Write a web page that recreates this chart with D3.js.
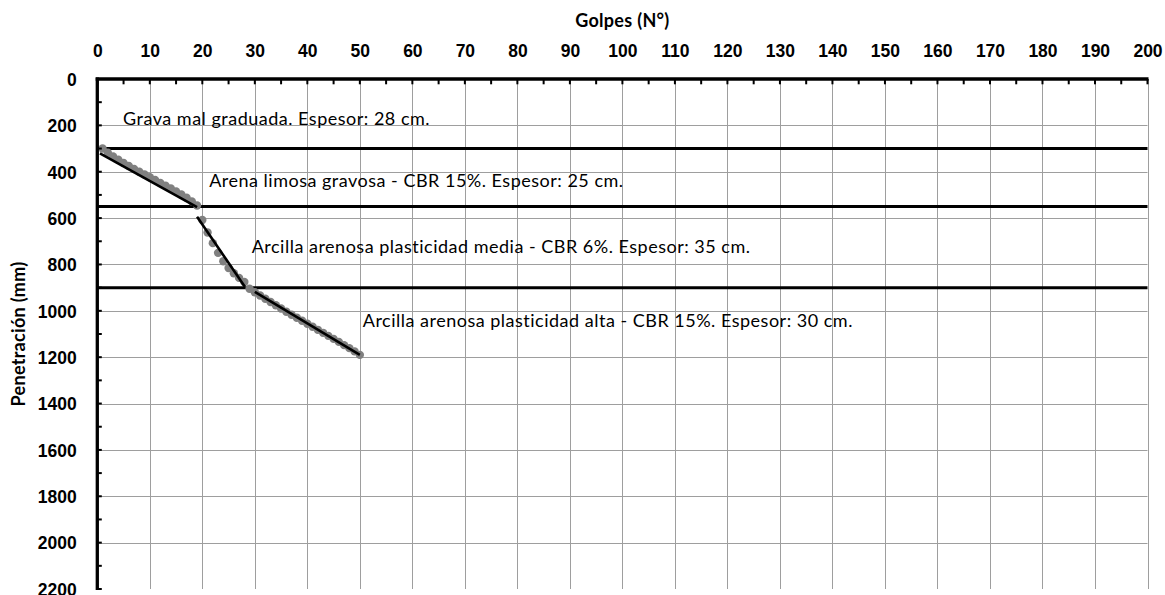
<!DOCTYPE html>
<html>
<head>
<meta charset="utf-8">
<script src="https://cdn.jsdelivr.net/npm/d3@7"></script>
<style>
  html, body { margin: 0; padding: 0; background: #fff; }
  svg { display: block; font-family: Lato, "Open Sans", sans-serif; }
</style>
</head>
<body>
<svg id="chart" width="1165" height="595"></svg>
<script>
// Ensayo DCP: golpes acumulados vs penetración (mm)
const golpes = [1, 2, 3, 4, 5, 6, 7, 8, 9, 10, 11, 12, 13, 14, 15, 16, 17, 18, 19,
                20, 21, 22, 23, 24, 25, 26, 27, 28,
                29, 30, 31, 32, 33, 34, 35, 36, 37, 38, 39, 40, 41, 42, 43, 44, 45, 46, 47, 48, 49, 50];
const penetracion = [300, 318, 334, 348, 362, 375, 388, 400, 412, 424, 436, 448, 460, 472, 485, 498, 512, 528, 546,
                     608, 662, 708, 750, 786, 815, 838, 858, 876,
                     905, 920, 934, 948, 962, 976, 990, 1004, 1017, 1030, 1043, 1056, 1069, 1082, 1095, 1108, 1121, 1134, 1148, 1161, 1175, 1190];

// Rectas de tendencia por estrato (golpes inicial/final, penetración inicial/final)
const tendenciaGolpes = [[0.5, 19], [19, 28.1], [30, 50]];
const tendenciaPenetracion = [[321, 553], [594, 896], [918, 1190]];

// Límites entre estratos (mm)
const limitesEstratos = [300, 550, 900];

// Descripción de cada estrato
const estratosTexto = [
  "Grava mal graduada. Espesor: 28 cm.",
  "Arena limosa gravosa - CBR 15%. Espesor: 25 cm.",
  "Arcilla arenosa plasticidad media - CBR 6%. Espesor: 35 cm.",
  "Arcilla arenosa plasticidad alta - CBR 15%. Espesor: 30 cm."
];

// Ejes
const ticksGolpes = d3.range(0, 201, 10);
const ticksPenetracion = d3.range(0, 2201, 200);

// ---- layout ----
const plot = { left: 97.3, right: 1147.5, top: 79, bottom: 589 };
const etiquetaPos = [[4.9, 198], [21.3, 465], [29.4, 751], [50.55, 1070]];

const svg = d3.select("#chart");
const x = d3.scaleLinear().domain([0, 200]).range([plot.left, plot.right]);
const y = d3.scaleLinear().domain([0, 2200]).range([plot.top, plot.bottom]);

// grid
const grid = svg.append("g").attr("stroke", "#9e9e9e").attr("stroke-width", 1);
grid.selectAll("line.v").data(ticksGolpes.filter(d => d > 0)).join("line")
  .attr("x1", d => Math.round(x(d)) + 0.5).attr("x2", d => Math.round(x(d)) + 0.5)
  .attr("y1", plot.top).attr("y2", plot.bottom);
grid.selectAll("line.h").data(ticksPenetracion.filter(d => d > 0 && d < 2200)).join("line")
  .attr("x1", plot.left).attr("x2", plot.right)
  .attr("y1", d => Math.round(y(d)) + 0.5).attr("y2", d => Math.round(y(d)) + 0.5);

// layer boundaries
svg.append("g").selectAll("line").data(limitesEstratos).join("line")
  .attr("x1", x(0)).attr("x2", x(200))
  .attr("y1", d => y(d)).attr("y2", d => y(d))
  .attr("stroke", "#000").attr("stroke-width", 3);

// measured points
svg.append("g").selectAll("circle").data(golpes).join("circle")
  .attr("cx", d => x(d)).attr("cy", (d, i) => y(penetracion[i]))
  .attr("r", 4.2).attr("fill", "#808080");

// trend lines
const line = d3.line().x(d => x(d[0])).y(d => y(d[1]));
svg.append("g").selectAll("path").data(tendenciaGolpes.map((g, i) => g.map((v, j) => [v, tendenciaPenetracion[i][j]])))
  .join("path").attr("d", line).attr("fill", "none").attr("stroke", "#000").attr("stroke-width", 2.6);

// top axis
const xAxis = d3.axisTop(x).tickValues(ticksGolpes).tickSize(0).tickPadding(0).tickFormat(d3.format("d"));
const gx = svg.append("g").attr("transform", `translate(0,${plot.top})`).call(xAxis);
gx.select(".domain").remove();
gx.selectAll("text").attr("y", -21.7).attr("dy", 0)
  .style("font-size", "17.5px").style("font-weight", "bold").attr("fill", "#000");
svg.append("g").selectAll("line").data(d3.range(0, 201, 5)).join("line")
  .attr("x1", d => x(d)).attr("x2", d => x(d))
  .attr("y1", plot.top).attr("y2", plot.top + 5.3)
  .attr("stroke", "#000").attr("stroke-width", 2);
svg.append("line").attr("x1", plot.left - 1.6).attr("x2", plot.right + 1)
  .attr("y1", plot.top).attr("y2", plot.top).attr("stroke", "#000").attr("stroke-width", 3.3);

// left axis
const yAxis = d3.axisLeft(y).tickValues(ticksPenetracion).tickSize(0).tickPadding(0).tickFormat(d3.format("d"));
const gy = svg.append("g").attr("transform", `translate(${plot.left},0)`).call(yAxis);
gy.select(".domain").remove();
gy.selectAll("text").attr("x", -20.5).attr("dy", "0.36em")
  .style("font-size", "17.5px").style("font-weight", "bold").attr("fill", "#000");
svg.append("g").selectAll("line").data(d3.range(0, 2201, 100)).join("line")
  .attr("x1", plot.left).attr("x2", plot.left + 4.5)
  .attr("y1", d => y(d)).attr("y2", d => y(d))
  .attr("stroke", "#000").attr("stroke-width", 2);
svg.append("line").attr("x1", plot.left).attr("x2", plot.left)
  .attr("y1", plot.top - 1.6).attr("y2", plot.bottom + 1).attr("stroke", "#000").attr("stroke-width", 3.3);

// axis titles
svg.append("text").attr("x", (plot.left + plot.right) / 2).attr("y", 27)
  .attr("text-anchor", "middle").style("font-size", "18px").style("font-weight", "bold")
  .style("letter-spacing", "0.3px")
  .text("Golpes (N°)");
svg.append("text").attr("transform", `translate(25,${(plot.top + plot.bottom) / 2}) rotate(-90)`)
  .attr("text-anchor", "middle").style("font-size", "18px").style("font-weight", "bold")
  .style("letter-spacing", "0.3px")
  .text("Penetración (mm)");

// layer descriptions
svg.append("g").selectAll("text").data(estratosTexto).join("text")
  .attr("x", (d, i) => x(etiquetaPos[i][0])).attr("y", (d, i) => y(etiquetaPos[i][1]))
  .style("font-size", "18px").style("letter-spacing", "0.5px").attr("fill", "#000")
  .text(d => d);
</script>
</body>
</html>
